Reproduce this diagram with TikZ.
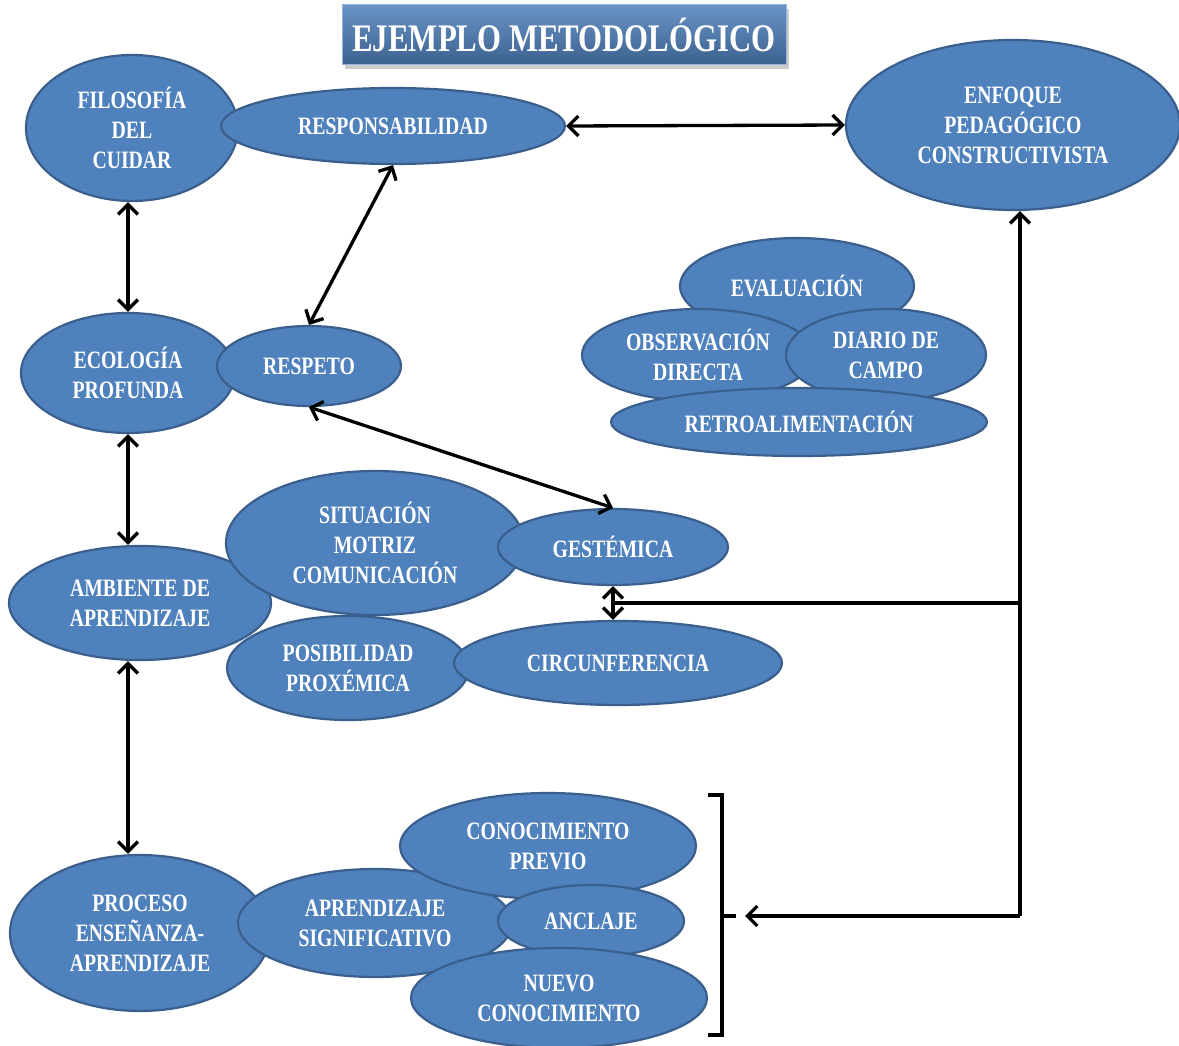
\documentclass[tikz,border=0pt]{standalone}
\usepackage{fontspec}
\usepackage{tikz}
\usetikzlibrary{positioning, calc, arrows.meta, shapes.geometric, shadows}
\newfontfamily\ejfont[FakeStretch=0.79]{Liberation Serif}
\newcommand{\ejtexto}{\ejfont\bfseries\fontsize{25}{30}\selectfont}
\definecolor{ejazul}{HTML}{4F81BD}
\definecolor{ejborde}{HTML}{3A5F8D}
\tikzset{
	idea/.style={ellipse, draw=ejborde, line width=2.2pt, fill=ejazul, text=white,
		inner sep=0pt, align=center, font=\ejtexto},
	flecha/.style={line width=3.3pt, {Straight Barb[length=10pt,width=20pt]}-{Straight Barb[length=10pt,width=20pt]}},
	linea/.style={line width=3.3pt},
}

\begin{document}
\begin{tikzpicture}[x=1pt, y=-1pt]
\useasboundingbox (0, 0) rectangle (1179, 1046);
\node[rectangle, draw=ejazul!60!white, line width=1pt, top color=ejazul!85!white, bottom color=ejazul!75!black,
	minimum width=444, minimum height=60, text=white, drop shadow={shadow xshift=3pt, shadow yshift=-4pt, opacity=0.4},
	font=\ejfont\bfseries\fontsize{39}{40}\selectfont] (titulo) at (564, 35) {EJEMPLO METODOLÓGICO};
% elipses, en orden de dibujo
\foreach \n/\x/\y/\w/\h/\t in {
	fil/132/128/212/146/{FILOSOFÍA\\DEL\\CUIDAR},
	resp/393/126/344/76/{RESPONSABILIDAD},
	enf/1013/125/334/170/{ENFOQUE\\PEDAGÓGICO\\CONSTRUCTIVISTA},
	eco/128/373/214/120/{ECOLOGÍA\\PROFUNDA},
	respeto/309/366/184/80/{RESPETO},
	eval/797/286/234/96/{EVALUACIÓN},
	obs/698/355/232/92/{OBSERVACIÓN\\DIRECTA},
	diar/886/355/200/92/{DIARIO DE\\CAMPO},
	retro/799/422/376/68/{RETROALIMENTACIÓN},
	amb/140/603/262/114/{AMBIENTE DE\\APRENDIZAJE},
	sit/375/543/298/144/{SITUACIÓN\\MOTRIZ\\COMUNICACIÓN},
	gest/613/547/230/76/{GESTÉMICA},
	pos/348/668/242/104/{POSIBILIDAD\\PROXÉMICA},
	circ/618/663/328/84/{CIRCUNFERENCIA},
	proc/140/933/260/156/{PROCESO\\ENSEÑANZA-\\APRENDIZAJE},
	apr/375/923/274/108/{APRENDIZAJE\\SIGNIFICATIVO},
	prev/548/846/296/106/{CONOCIMIENTO\\PREVIO},
	ancl/591/921/186/72/{ANCLAJE},
	nuevo/559/998/296/100/{NUEVO\\CONOCIMIENTO}}
	\node[idea, minimum width=\w, minimum height=\h] (\n) at (\x, \y) {\t};
% flechas dobles
\draw[flecha] (fil.south -| eco.south) -- (eco.north);
\draw[flecha] (resp.east) -- (enf.west);
\draw[flecha] (resp.south) -- (respeto.north);
\draw[flecha] (eco.south) -- (eco.south |- amb.north);
\draw[flecha] (respeto.south) -- (gest.north);
\draw[flecha] (amb.south -| eco.south) -- (proc.north -| eco.south);
\draw[flecha] (gest.south) -- (gest.south |- circ.north);
% retorno desde el enfoque
\coordinate (jx) at (1020, 603);
\coordinate (jb) at (1020, 916);
\coordinate (brk) at (745, 916);
\draw[linea, -{Straight Barb[length=10pt,width=20pt]}] (jb) -- (jb |- enf.south);
\draw[linea] (jx) -- (jx -| gest.south);
\draw[linea, -{Straight Barb[length=10pt,width=20pt]}] (jb) -- (brk);
% corchete
\draw[linea] (708, 795) -- (722, 795) -- (722, 1035) -- (708, 1035)
	(722, 916) -- (736, 916);
\end{tikzpicture}
\end{document}
